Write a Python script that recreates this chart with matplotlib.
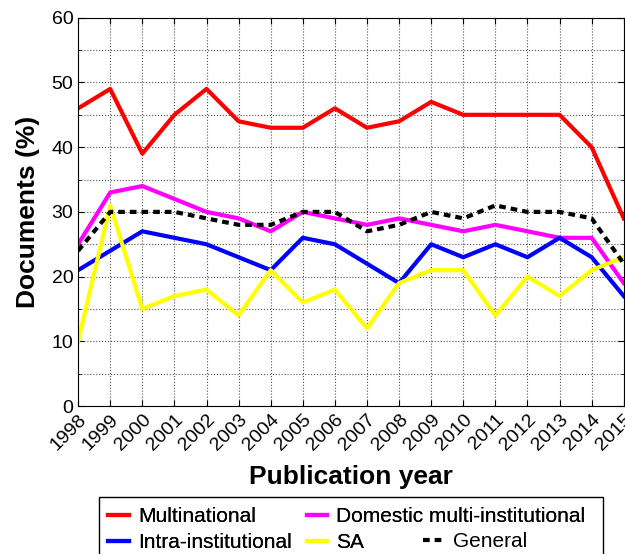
import numpy as np
import matplotlib.pyplot as plt
from matplotlib.patches import Rectangle

plt.rcParams['font.family'] = ['Liberation Sans', 'DejaVu Sans']

years = list(range(1998, 2016))
multinational = [46, 49, 39, 45, 49, 44, 43, 43, 46, 43, 44, 47, 45, 45, 45, 45, 40, 29]
domestic = [25, 33, 34, 32, 30, 29, 27, 30, 29, 28, 29, 28, 27, 28, 27, 26, 26, 19]
intra = [21, 24, 27, 26, 25, 23, 21, 26, 25, 22, 19, 25, 23, 25, 23, 26, 23, 17]
sa = [10, 31, 15, 17, 18, 14, 21, 16, 18, 12, 19, 21, 21, 14, 20, 17, 21, 23]
general = [24, 30, 30, 30, 29, 28, 28, 30, 30, 27, 28, 30, 29, 31, 30, 30, 29, 22]

fig = plt.figure(figsize=(6.25, 5.54), dpi=100)
ax = fig.add_axes([0.125, 0.267, 0.873, 0.701])

lw = 3
l1, = ax.plot(years, multinational, color='#ff0000', lw=lw, label='Multinational')
l2, = ax.plot(years, domestic, color='#ff00ff', lw=lw, label='Domestic multi-institutional')
l3, = ax.plot(years, intra, color='#0000ff', lw=lw, label='Intra-institutional')
l4, = ax.plot(years, sa, color='#ffff00', lw=lw, label='SA')
l5, = ax.plot(years, general, color='black', lw=lw, ls=(0, (1.6, 1.2)), label='General')

ax.set_xlim(1998, 2015)
ax.set_ylim(0, 60)
ax.set_xticks(years)
ax.set_xticklabels([str(y) for y in years], rotation=45, ha='right',
                   rotation_mode='anchor', fontsize=14)
ax.set_yticks(range(0, 61, 10))
ax.set_yticks(range(5, 60, 10), minor=True)
ax.tick_params(axis='y', labelsize=14)
ax.tick_params(which='both', direction='in', length=4, top=True, right=True)
ax.tick_params(which='minor', length=2)
ax.grid(True, which='both', ls=':', color='#555555', lw=0.8)

ax.set_xlabel('Publication year', fontsize=19, fontweight='bold', labelpad=8)
ax.set_ylabel('Documents (%)', fontsize=19, fontweight='bold', labelpad=8)

# legend box (MATLAB style, cut at the figure bottom)
fig.patches.append(Rectangle((99 / 625, -0.02), 504 / 625, 1 - 497 / 554 + 0.02,
                             transform=fig.transFigure, fill=False,
                             edgecolor='black', lw=1))
leg_kw = dict(frameon=False, fontsize=15, handlelength=1.0, handletextpad=0.43,
              borderpad=0, borderaxespad=0)
leg1 = fig.legend([l1, l3, l2, l4],
                  [l1.get_label(), l3.get_label(), l2.get_label(), l4.get_label()],
                  ncol=2, loc='upper left', bbox_to_anchor=(108 / 625, 1 - 507 / 554),
                  columnspacing=0.72, labelspacing=0.35, **leg_kw)
leg2 = fig.legend([l5], [l5.get_label()], loc='upper left',
                  bbox_to_anchor=(423 / 625, 1 - 532 / 554), **leg_kw)
fig.add_artist(leg1)

fig.savefig('out.png', dpi=100)
